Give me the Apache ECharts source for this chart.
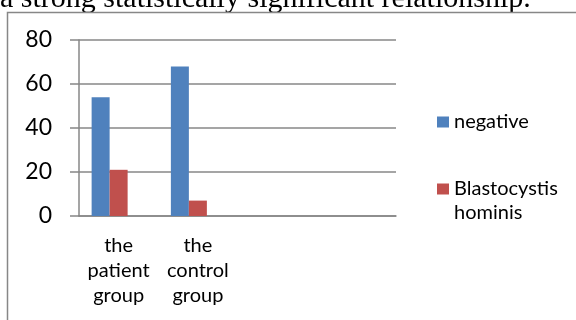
<!DOCTYPE html>
<html>
<head>
<meta charset="utf-8">
<style>html,body{margin:0;padding:0;background:#fff;}#c{width:576px;height:320px;}</style>
<script src="https://cdn.jsdelivr.net/npm/echarts@6/dist/echarts.min.js"></script>
</head>
<body>
<div id="c"></div>
<script>
const categories = ['the patient group', 'the control group', '', ''];
const negative = [54, 68, null, null];
const blastocystis = [21, 7, null, null];
const emptySeries = [null, null, null, null];
const yTicks = [0, 20, 40, 60, 80];
const seriesNames = ['negative', 'Blastocystis hominis', 'Series 3'];
const headerText = 'a strong statistically significant relationship.';

const chart = echarts.init(document.getElementById('c'), null, {renderer: 'canvas'});
const gray = '#878787';
const sans = 'Lato';
chart.setOption({
  animation: false,
  graphic: [
    {type: 'text', x: 0, y: -1, style: {text: headerText, font: '30px "Liberation Serif"', fill: '#000', verticalAlign: 'middle'}},
    {type: 'rect', shape: {x: 7.5, y: 12.5, width: 600, height: 340}, style: {fill: 'none', stroke: gray, lineWidth: 1.5}}
  ],
  grid: {left: 79, top: 40, width: 317, height: 176},
  legend: [
    {data: [seriesNames[0]], orient: 'vertical', left: 437, top: 110, padding: 0, itemWidth: 12, itemHeight: 11, icon: 'rect',
      textStyle: {fontFamily: sans, fontSize: 20, color: '#000', lineHeight: 24}},
    {data: [seriesNames[1]], orient: 'vertical', left: 437, top: 153, padding: 0, itemWidth: 12, itemHeight: 11, icon: 'rect',
      formatter: n => '\n' + n.replace(' ', '\n'),
      textStyle: {fontFamily: sans, fontSize: 20, color: '#000', lineHeight: 24}}
  ],
  xAxis: {
    type: 'category', data: categories,
    axisLine: {lineStyle: {color: gray, width: 1.5}},
    axisTick: {length: 7, lineStyle: {color: gray, width: 1.5}},
    axisLabel: {interval: 0, margin: 17, fontFamily: sans, fontSize: 20, color: '#000', lineHeight: 25,
      formatter: v => v.split(' ').join('\n')}
  },
  yAxis: {
    type: 'value', min: yTicks[0], max: yTicks[yTicks.length - 1], interval: 20,
    axisLine: {show: true, lineStyle: {color: gray, width: 1.5}},
    axisTick: {show: true, length: 9, lineStyle: {color: gray, width: 1.5}},
    splitLine: {lineStyle: {color: gray, width: 1.5}},
    axisLabel: {margin: 27, fontFamily: sans, fontSize: 23, color: '#000'}
  },
  series: [
    {name: seriesNames[0], type: 'bar', data: negative, barWidth: 18, barGap: '0%', itemStyle: {color: '#4F81BD'}},
    {name: seriesNames[1], type: 'bar', data: blastocystis, barWidth: 18, barGap: '0%', itemStyle: {color: '#C0504D'}},
    {name: seriesNames[2], type: 'bar', data: emptySeries, barWidth: 18, barGap: '0%', itemStyle: {color: '#9BBB59'}}
  ]
});
</script>
</body>
</html>
